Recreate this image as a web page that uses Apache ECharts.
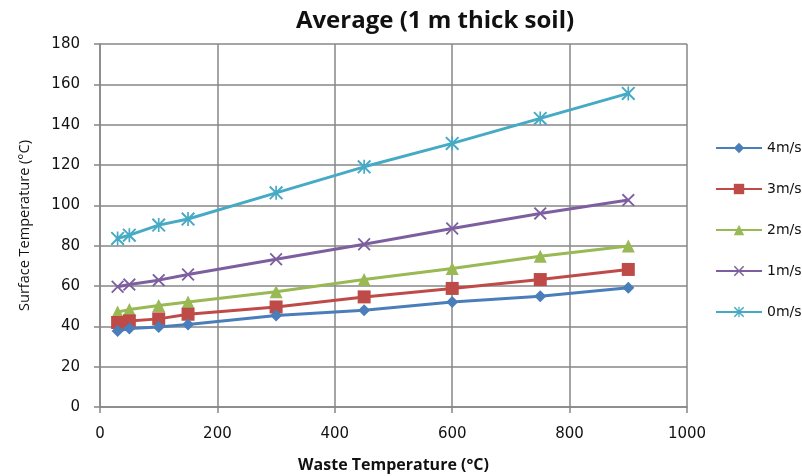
<!DOCTYPE html>
<html><head><meta charset="utf-8">
<script src="https://cdn.jsdelivr.net/npm/echarts@6/dist/echarts.min.js"></script>
<style>html,body{margin:0;padding:0;background:#fff}#c{width:802px;height:476px}</style>
</head><body><div id="c"></div>
<script>
const wasteTemp = [30, 50, 100, 150, 300, 450, 600, 750, 900];
const v4 = [37.7, 38.9, 39.7, 40.9, 45.4, 48.0, 52.1, 54.9, 59.1];
const v3 = [41.9, 42.7, 43.7, 46.0, 49.6, 54.6, 58.8, 63.2, 68.2];
const v2 = [47.1, 48.3, 50.3, 52.1, 57.1, 63.2, 68.7, 74.8, 79.8];
const v1 = [59.6, 60.7, 62.9, 65.7, 73.3, 80.7, 88.5, 96.0, 102.6];
const v0 = [83.6, 85.2, 90.2, 93.2, 106.2, 119.1, 130.7, 143.1, 155.5];
const seriesNames = ['4m/s', '3m/s', '2m/s', '1m/s', '0m/s'];
const seriesValues = [v4, v3, v2, v1, v0];
const colors = ['#4A7EBB', '#BE4B48', '#98B954', '#7D5FA0', '#46AAC5'];
const xPath = 'path://M1,0L5,4L9,0L10,1L6,5L10,9L9,10L5,6L1,10L0,9L4,5L0,1Z';
const starPath = 'path://M1,0L4.4,3.4L4.4,0L5.6,0L5.6,3.4L9,0L10,1L6.4,4.6L6.4,5.4L10,9L9,10L5.6,6.6L5.6,10L4.4,10L4.4,6.6L1,10L0,9L3.6,5.4L3.6,4.6L0,1Z';
const symbols = ['diamond', 'rect', 'triangle', xPath, starPath];
const symSizes = [12, 13, 13, 13, 14];

const chart = echarts.init(document.getElementById('c'));
chart.setOption({
  animation: false,
  title: {
    text: 'Average (1 m thick soil)', left: 430, top: 4, textAlign: 'center',
    textStyle: {fontFamily: 'Open Sans', fontSize: 24, fontWeight: 'bold', color: '#111'}
  },
  legend: {
    orient: 'vertical', left: 710, top: 136, itemWidth: 46, itemHeight: 13, itemGap: 27,
    data: seriesNames,
    textStyle: {fontFamily: 'DejaVu Sans', fontSize: 14, color: '#111'}
  },
  grid: {left: 100, right: 115, top: 44, bottom: 69, outerBoundsMode: 'none', containLabel: false},
  xAxis: {
    type: 'value', min: 0, max: 1000, interval: 200,
    name: 'Waste Temperature (°C)', nameLocation: 'middle', nameGap: 50,
    nameTextStyle: {fontFamily: 'Open Sans', fontSize: 16, fontWeight: 'bold', color: '#111'},
    axisLine: {lineStyle: {color: '#878787', width: 1.5}},
    axisTick: {show: true, length: 6, lineStyle: {color: '#878787', width: 1.5}},
    axisLabel: {fontFamily: 'DejaVu Sans', fontSize: 15, color: '#111', margin: 20, formatter: v => String(v)},
    splitLine: {show: true, lineStyle: {color: '#878787', width: 1.5}}
  },
  yAxis: {
    type: 'value', min: 0, max: 180, interval: 20,
    name: 'Surface Temperature (°C)', nameLocation: 'middle', nameGap: 68,
    nameTextStyle: {fontFamily: 'Open Sans', fontSize: 14.5, color: '#111'},
    axisLine: {show: true, lineStyle: {color: '#878787', width: 1.5}},
    axisTick: {show: true, length: 6, lineStyle: {color: '#878787', width: 1.5}},
    axisLabel: {fontFamily: 'DejaVu Sans', fontSize: 15, color: '#111', margin: 20},
    splitLine: {show: true, lineStyle: {color: '#878787', width: 1.5}}
  },
  series: seriesNames.map((n, i) => ({
    name: n, type: 'line',
    data: wasteTemp.map((x, j) => [x, seriesValues[i][j]]),
    symbol: symbols[i], symbolSize: symSizes[i], showAllSymbol: true,
    lineStyle: {color: colors[i], width: 3},
    itemStyle: {color: colors[i]},
    z: 10 - i
  }))
});
</script></body></html>
